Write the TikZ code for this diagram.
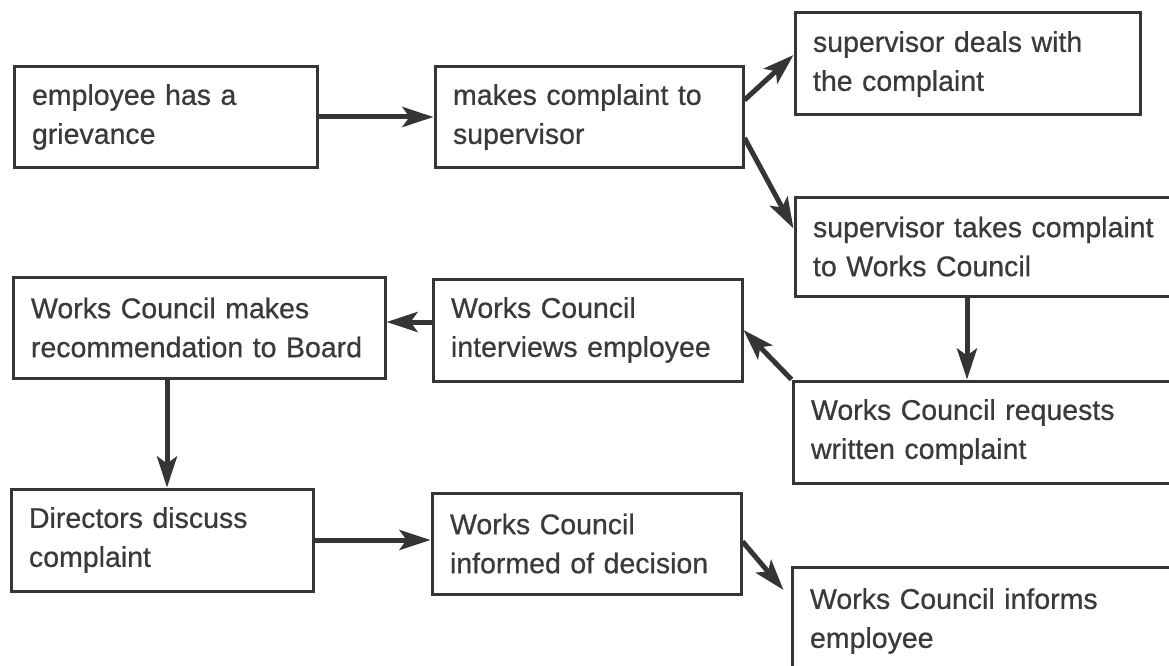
\documentclass[tikz,border=0pt]{standalone}
\usepackage{fontspec}
\setmainfont{Liberation Sans}[FakeBold=0.6]
\usetikzlibrary{arrows.meta}
\definecolor{ink}{HTML}{353535}
\definecolor{txt}{HTML}{3A3A3A}
\begin{document}
\begin{tikzpicture}[x=1pt,y=-1pt,
  stepbox/.style={draw=ink, line width=3pt, rectangle, inner xsep=18pt, inner ysep=0pt,
    align=left, text=txt, font=\fontsize{28.5pt}{39pt}\selectfont},
  flow/.style={draw=ink, line width=5pt,
    -{Stealth[length=31pt,width=20pt,inset=7pt]}}]
\useasboundingbox[fill=white] (0,0) rectangle (1169,666);
\begin{scope}
\clip (0,0) rectangle (1169,666);
% left column
\node[stepbox, minimum height=100pt, text width=267pt] (b1) at (165.5,117) {employee has a\\grievance};
\node[stepbox, minimum height=101pt, text width=336pt] (b5) at (199,327.5) {Works Council makes\\recommendation to Board};
\node[stepbox, minimum height=102pt, text width=266pt] (b8) at (162,540) {Directors discuss\\complaint};
% middle column
\node[stepbox, minimum height=100pt, text width=272pt] (b2) at (589,117) {makes complaint to\\supervisor};
\node[stepbox, minimum height=102pt, text width=273pt] (b6) at (587.5,330) {Works Council\\interviews employee};
\node[stepbox, minimum height=101pt, text width=273pt] (b9) at (586.5,543.5) {Works Council\\informed of decision};
% right column
\node[stepbox, minimum height=102pt, text width=309pt] (b3) at (967.5,64) {supervisor deals with\\the complaint};
\node[stepbox, minimum height=99pt, text width=354pt] (b4) at (990,246.5) {supervisor takes complaint\\to Works Council};
\node[stepbox, minimum height=102pt, text width=356pt] (b7) at (989,432) {Works Council requests\\written complaint};
\node[stepbox, minimum height=108pt, text width=357pt] (b10) at (988.5,621) {Works Council informs\\employee};
% connectors
\draw[flow] (b1.east) -- (b2.west);
\draw[flow] ([yshift=17pt]b2.east) -- ([yshift=9pt]b3.west);
\draw[flow] ([yshift=-21pt]b2.east) -- ([yshift=18pt]b4.west);
\draw[flow] ([xshift=-23pt]b4.south) -- ([xshift=-23pt]b4.south |- b7.north);
\draw[flow] (b7.north west) -- (b6.east);
\draw[flow] ([yshift=8pt]b6.west) -- ([yshift=8pt]b6.west -| b5.east);
\draw[flow] ([xshift=-32pt]b5.south) -- ([xshift=-32pt]b5.south |- b8.north);
\draw[flow] (b8.east) -- (b8.east -| b9.west);
\draw[flow] ([yshift=2pt]b9.east) -- ([xshift=-7pt,yshift=31pt]b10.west);
\end{scope}
\end{tikzpicture}
\end{document}
